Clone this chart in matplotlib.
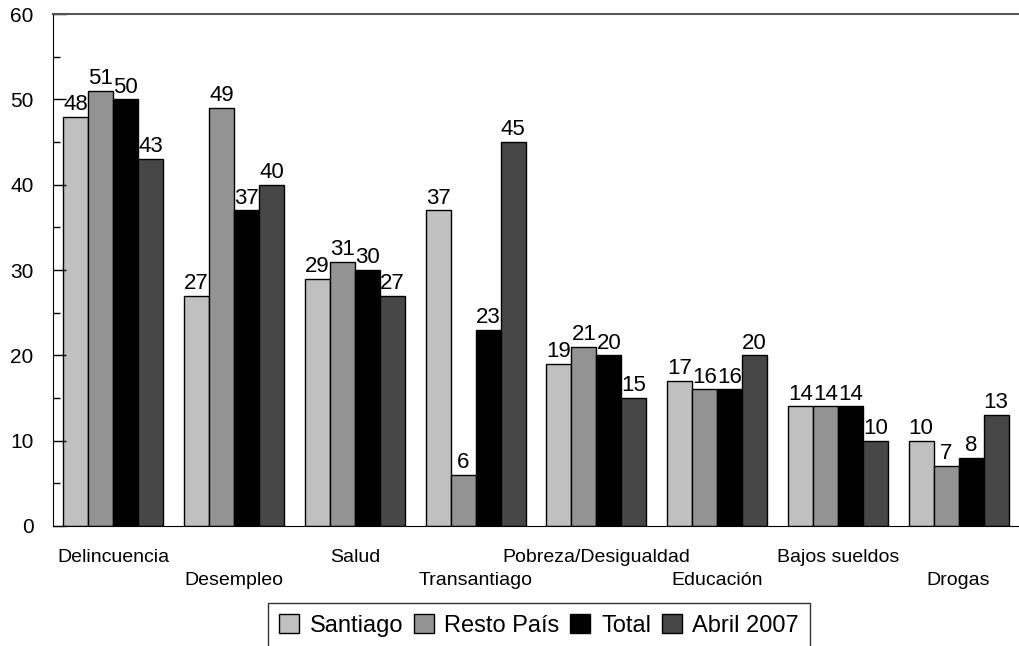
import numpy as np
import matplotlib.pyplot as plt
from matplotlib.ticker import MultipleLocator

plt.rcParams['font.family'] = ['Liberation Sans', 'DejaVu Sans']

categorias = ['Delincuencia', 'Desempleo', 'Salud', 'Transantiago',
              'Pobreza/Desigualdad', 'Educación', 'Bajos sueldos', 'Drogas']
santiago = [48, 27, 29, 37, 19, 17, 14, 10]
resto_pais = [51, 49, 31, 6, 21, 16, 14, 7]
total = [50, 37, 30, 23, 20, 16, 14, 8]
abril_2007 = [43, 40, 27, 45, 15, 20, 10, 13]

series = [('Santiago', santiago, '#c0c0c0'),
          ('Resto País', resto_pais, '#939393'),
          ('Total', total, '#000000'),
          ('Abril 2007', abril_2007, '#474747')]

fig = plt.figure(figsize=(10.19, 6.46), dpi=100)
ax = fig.add_axes([0.052, 0.186, 0.948, 0.792])

x = np.arange(len(categorias))
w = 0.207
for i, (nombre, vals, color) in enumerate(series):
    pos = x + (i - 1.5) * w
    ax.bar(pos, vals, w, color=color, edgecolor='black', linewidth=1, label=nombre)
    for xb, v in zip(pos, vals):
        ax.text(xb, v + 0.2, str(v), ha='center', va='bottom', fontsize=16)

ax.set_xlim(-0.5, len(categorias) - 0.5)
ax.set_ylim(0, 60)
ax.yaxis.set_major_locator(MultipleLocator(10))
ax.yaxis.set_minor_locator(MultipleLocator(5))
ax.tick_params(axis='y', which='major', direction='in', length=9, width=1, labelsize=15, pad=14)
ax.tick_params(axis='y', which='minor', direction='in', length=5, width=1)

# etiquetas escalonadas
ax.set_xticks(x[::2])
ax.set_xticklabels(categorias[::2])
ax.set_xticks(x[1::2], minor=True)
ax.set_xticklabels(categorias[1::2], minor=True)
ax.tick_params(axis='x', which='major', length=0, labelsize=14, pad=16.5)
ax.tick_params(axis='x', which='minor', length=0, labelsize=14, pad=33.5)

ax.spines['right'].set_visible(False)
ax.spines['top'].set_color('#555555')
ax.spines['top'].set_linewidth(1.5)

leg = fig.legend(loc='upper center', bbox_to_anchor=(0.529, 0.066), ncol=4,
                 fontsize=17, frameon=True, fancybox=False, edgecolor='black',
                 handlelength=0.85, handleheight=0.85, handletextpad=0.45,
                 columnspacing=0.45, borderpad=0.45, borderaxespad=0)
leg.get_frame().set_linewidth(1)

fig.savefig('out.png', dpi=100)
